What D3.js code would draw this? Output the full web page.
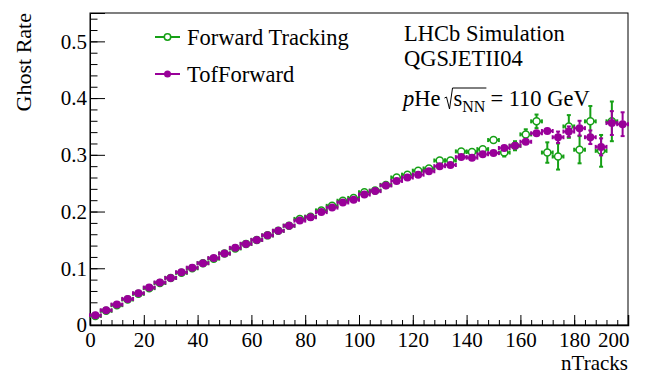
<!DOCTYPE html>
<html>
<head>
<meta charset="utf-8">
<script src="https://cdnjs.cloudflare.com/ajax/libs/d3/7.8.5/d3.min.js"></script>
<style>
  body { margin: 0; background: #fff; }
  svg text { font-family: "Liberation Serif", "DejaVu Serif", serif; fill: #000; }
</style>
</head>
<body>
<div id="canvas"></div>
<script>
// bin centres in nTracks (bins of width 4)
const binCenters = [2, 6, 10, 14, 18, 22, 26, 30, 34, 38, 42, 46, 50, 54, 58, 62, 66, 70, 74, 78,
    82, 86, 90, 94, 98, 102, 106, 110, 114, 118, 122, 126, 130, 134, 138, 142, 146, 150, 154, 158,
    162, 166, 170, 174, 178, 182, 186, 190, 194, 198];
const binHalfWidth = 2;

// Forward Tracking ghost rate (null = no point)
const forwardRate = [0.016, 0.025, 0.035, 0.045, 0.055, 0.065, 0.074, 0.083, 0.092, 0.100, 0.109, 0.117, 0.126, 0.135, 0.143, 0.150, 0.158, 0.166, 0.175, 0.187,
    0.191, 0.202, 0.210, 0.219, 0.224, 0.234, 0.237, 0.247, 0.260, 0.265, 0.272, 0.276, 0.290, 0.290, 0.306, 0.305, 0.310, 0.326, 0.304, 0.316,
    0.336, 0.359, 0.304, 0.297, 0.350, 0.309, 0.359, 0.307, 0.359, null];
const forwardErr = [0.002, 0.002, 0.002, 0.002, 0.002, 0.002, 0.002, 0.002, 0.002, 0.002, 0.002, 0.002, 0.002, 0.002, 0.002, 0.002, 0.002, 0.002, 0.003, 0.003,
    0.003, 0.003, 0.003, 0.003, 0.003, 0.003, 0.003, 0.003, 0.003, 0.003, 0.003, 0.003, 0.004, 0.005, 0.005, 0.006, 0.006, 0.006, 0.007, 0.008,
    0.009, 0.012, 0.018, 0.023, 0.020, 0.024, 0.027, 0.028, 0.035, 0];

// TofForward ghost rate
const tofRate = [0.017, 0.026, 0.036, 0.046, 0.056, 0.066, 0.075, 0.083, 0.093, 0.101, 0.109, 0.118, 0.126, 0.136, 0.143, 0.150, 0.158, 0.166, 0.175, 0.184,
    0.190, 0.199, 0.207, 0.216, 0.221, 0.230, 0.236, 0.246, 0.254, 0.260, 0.265, 0.271, 0.280, 0.282, 0.296, 0.295, 0.301, 0.303, 0.312, 0.316,
    0.323, 0.338, 0.342, 0.331, 0.341, 0.347, 0.331, 0.314, 0.356, 0.354];
const tofErr = [0.002, 0.002, 0.002, 0.002, 0.002, 0.002, 0.002, 0.002, 0.002, 0.002, 0.002, 0.002, 0.002, 0.002, 0.002, 0.002, 0.002, 0.002, 0.002, 0.002,
    0.002, 0.002, 0.002, 0.002, 0.002, 0.002, 0.002, 0.002, 0.003, 0.003, 0.003, 0.003, 0.003, 0.004, 0.004, 0.004, 0.004, 0.004, 0.004, 0.004,
    0.005, 0.006, 0.006, 0.010, 0.009, 0.013, 0.012, 0.015, 0.021, 0.021];

const xTicks = [0, 20, 40, 60, 80, 100, 120, 140, 160, 180, 200];
const yTicks = [0, 0.1, 0.2, 0.3, 0.4, 0.5];
const xMinorStep = 4;
const yMinorStep = 0.02;

const greenCol = "#16a016";
const magCol = "#990099";
const serif = "'Liberation Serif', 'DejaVu Serif', serif";

const margin = {top: 13, right: 28, bottom: 50, left: 90},
    width = 656 - margin.left - margin.right,
    height = 375 - margin.top - margin.bottom;

const svg = d3.select("#canvas")
    .append("svg")
    .attr("width", 656)
    .attr("height", 375)
    .attr("font-family", serif)
    .append("g")
    .attr("transform", "translate(" + margin.left + "," + margin.top + ")");

const x = d3.scaleLinear().domain([0, 200]).range([0, width]);
const y = d3.scaleLinear().domain([0, 0.55]).range([height, 0]);

// minor ticks
const xMinor = d3.range(0, 200 + 0.001, xMinorStep);
const yMinor = d3.range(0, 0.55, yMinorStep);

svg.append("g")
    .attr("transform", "translate(0," + height + ")")
    .call(d3.axisBottom(x).tickValues(xMinor).tickSize(-5).tickFormat(""))
    .call(g => g.select(".domain").remove());
svg.append("g")
    .call(d3.axisLeft(y).tickValues(yMinor).tickSize(-7.5).tickFormat(""))
    .call(g => g.select(".domain").remove());

// major ticks + labels
const xAxis = svg.append("g")
    .attr("transform", "translate(0," + height + ")")
    .call(d3.axisBottom(x).tickValues(xTicks).tickSize(-10).tickPadding(7).tickFormat(d3.format("d")))
    .attr("font-family", serif)
    .attr("font-size", 21);
xAxis.select(".domain").attr("stroke-width", 1.5);
// last label sits flush with the frame edge, as in ROOT
xAxis.selectAll(".tick text").filter(d => d === 200).attr("text-anchor", "end").attr("x", 1);

const yAxis = svg.append("g")
    .call(d3.axisLeft(y).tickValues(yTicks).tickSize(-15).tickPadding(3).tickFormat(d => String(d)))
    .attr("font-family", serif)
    .attr("font-size", 21);

svg.selectAll(".tick line").attr("stroke", "#000");

// frame
svg.append("rect")
    .attr("width", width)
    .attr("height", height)
    .style("fill", "none")
    .style("stroke", "#000")
    .style("stroke-width", 1);

// axis titles
svg.append("text")
    .attr("text-anchor", "end")
    .attr("transform", "rotate(-90)")
    .attr("x", 0)
    .attr("y", -margin.left + 31)
    .style("font-size", "22px")
    .text("Ghost Rate");

svg.append("text")
    .attr("text-anchor", "end")
    .attr("x", width)
    .attr("y", height + 45)
    .style("font-size", "21px")
    .text("nTracks");

// data points with error bars (bars stop at the marker edge, ROOT style)
const r = 3.5, cap = 2;
function drawSeries(rate, err, color, filled) {
    const pts = binCenters.map((c, i) => ({c: c, v: rate[i], e: err[i]})).filter(d => d.v !== null);
    const g = svg.append("g").style("stroke", color).style("stroke-width", 2);
    pts.forEach(function(d) {
        const cx = x(d.c), cy = y(d.v);
        const x0 = x(d.c - binHalfWidth), x1 = x(d.c + binHalfWidth);
        const yTop = y(d.v + d.e), yBot = y(d.v - d.e);
        g.append("line").attr("x1", x0).attr("x2", cx - r).attr("y1", cy).attr("y2", cy);
        g.append("line").attr("x1", cx + r).attr("x2", x1).attr("y1", cy).attr("y2", cy);
        g.append("line").attr("x1", x0).attr("x2", x0).attr("y1", cy - cap).attr("y2", cy + cap);
        g.append("line").attr("x1", x1).attr("x2", x1).attr("y1", cy - cap).attr("y2", cy + cap);
        if (cy - yTop > r) {
            g.append("line").attr("x1", cx).attr("x2", cx).attr("y1", yTop).attr("y2", cy - r);
            g.append("line").attr("x1", cx).attr("x2", cx).attr("y1", cy + r).attr("y2", yBot);
            g.append("line").attr("x1", cx - cap).attr("x2", cx + cap).attr("y1", yTop).attr("y2", yTop);
            g.append("line").attr("x1", cx - cap).attr("x2", cx + cap).attr("y1", yBot).attr("y2", yBot);
        }
    });
    svg.append("g").selectAll("circle")
        .data(pts)
        .enter()
        .append("circle")
        .attr("cx", d => x(d.c))
        .attr("cy", d => y(d.v))
        .attr("r", filled ? r + 0.5 : r)
        .style("fill", filled ? color : "none")
        .style("stroke", color)
        .style("stroke-width", filled ? 0 : 1.5);
}
drawSeries(forwardRate, forwardErr, greenCol, false);
drawSeries(tofRate, tofErr, magCol, true);

// legend
const legend = [
    {label: "Forward Tracking", color: greenCol, filled: false, y: 37},
    {label: "TofForward", color: magCol, filled: true, y: 74}
];
legend.forEach(function(l) {
    const ly = l.y - margin.top;
    svg.append("line")
        .attr("x1", 155 - margin.left).attr("x2", 180 - margin.left)
        .attr("y1", ly).attr("y2", ly)
        .style("stroke", l.color).style("stroke-width", 2);
    svg.append("circle")
        .attr("cx", 167.5 - margin.left).attr("cy", ly)
        .attr("r", l.filled ? 3.5 : 3.2)
        .style("fill", l.filled ? l.color : "#fff")
        .style("stroke", l.color).style("stroke-width", l.filled ? 0 : 1.5);
    svg.append("text")
        .attr("x", 187 - margin.left)
        .attr("y", ly + 8)
        .style("font-size", "22.5px")
        .text(l.label);
});

// LHCb labels
const lx = 404 - margin.left;
svg.append("text").attr("x", lx).attr("y", 41 - margin.top).style("font-size", "22.5px").text("LHCb Simulation");
svg.append("text").attr("x", lx).attr("y", 66 - margin.top).style("font-size", "22.5px").text("QGSJETII04");

const baseY = 106 - margin.top;
const t1 = svg.append("text").attr("x", lx - 1).attr("y", baseY).style("font-size", "22.5px");
t1.append("tspan").style("font-style", "italic").text("p");
t1.append("tspan").text("He");
const w1 = t1.node().getComputedTextLength();
const rx = lx - 1 + w1 + 4;
// radical sign
svg.append("path")
    .attr("d", "M" + rx + "," + (baseY - 8) + " L" + (rx + 2) + "," + (baseY - 9) +
        " L" + (rx + 5) + "," + (baseY + 3) +
        " L" + (rx + 8) + "," + (baseY - 18))
    .style("fill", "none").style("stroke", "#000").style("stroke-width", 1);
const t2 = svg.append("text").attr("x", rx + 9).attr("y", baseY).style("font-size", "22.5px");
t2.append("tspan").text("s");
t2.append("tspan").attr("dy", 6).style("font-size", "16px").text("NN");
const w2 = t2.node().getComputedTextLength();
svg.append("line")
    .attr("x1", rx + 8).attr("x2", rx + 9 + w2 + 1)
    .attr("y1", baseY - 18).attr("y2", baseY - 18)
    .style("stroke", "#000").style("stroke-width", 1);
svg.append("text").attr("x", rx + 9 + w2 + 5).attr("y", baseY).style("font-size", "22.5px").text("= 110 GeV");
</script>
</body>
</html>
